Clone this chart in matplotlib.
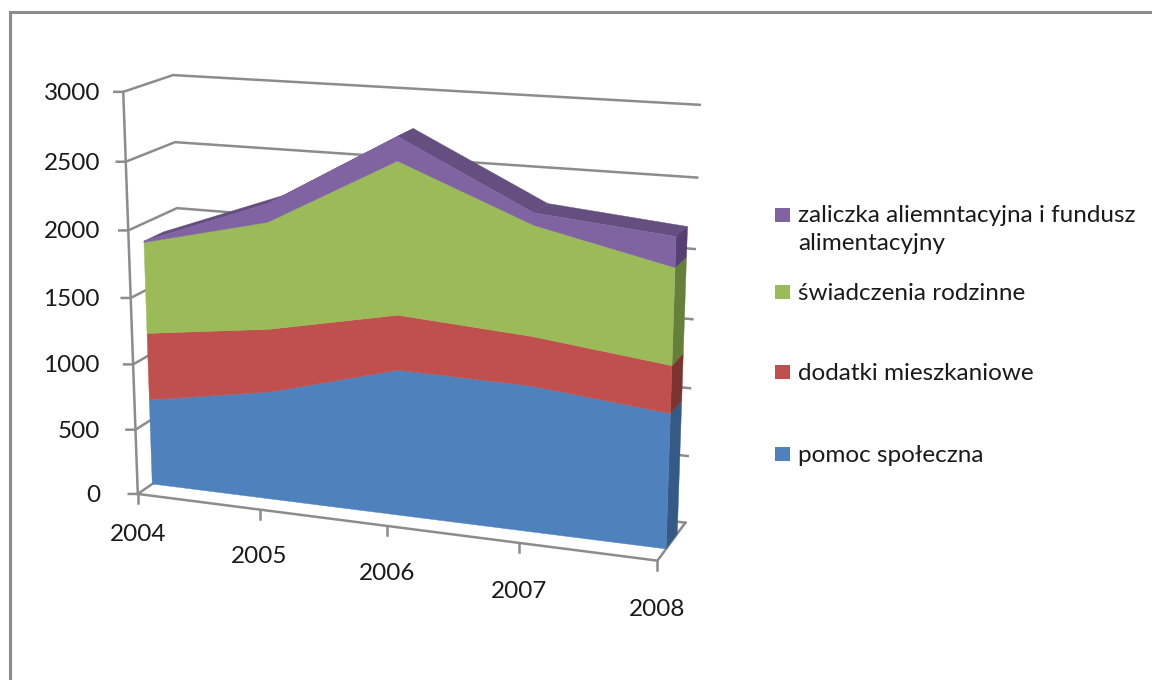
import numpy as np
import matplotlib
matplotlib.use('Agg')
import matplotlib.pyplot as plt
from matplotlib.patches import Polygon, Rectangle

plt.rcParams['font.family'] = ['Lato', 'DejaVu Sans']

# data
years = [2004, 2005, 2006, 2007, 2008]
pomoc = [660, 825, 1088, 1072, 979]
dodatki = [512, 471, 402, 356, 338]
swiadczenia = [687, 787, 1099, 783, 680]
zaliczka = [10, 135, 172, 86, 212]
y_ticks = [0, 500, 1000, 1500, 2000, 2500, 3000]
names = ['pomoc społeczna', 'dodatki mieszkaniowe', 'świadczenia rodzinne',
         'zaliczka aliemntacyjna i fundusz\nalimentacyjny']

front_cols = ['#4F81BD', '#C0504D', '#9BBB59', '#8064A2']
side_cols = ['#345A85', '#7D3330', '#667F3A', '#553F73']
top_col = '#654F81'
line_col = '#8C8C8C'
text_col = '#1A1A1A'

y_max = 3000.0
# the area sits between these depths of the box
z_front, z_back = 0.3, 0.7

# box position -> pixel pairs, used to fit the camera
calib = [
    (0, 0, 0, 138, 494), (.25, 0, 0, 259, 510), (.5, 0, 0, 386, 526),
    (.75, 0, 0, 519, 543), (1, 0, 0, 658, 560),
    (0, 1/6, 0, 136, 430), (0, 2/6, 0, 133, 364), (0, 3/6, 0, 131, 298),
    (0, 4/6, 0, 129, 230), (0, 5/6, 0, 125, 162), (0, 1, 0, 123, 92),
    (0, 1, 1, 173, 75), (0, 5/6, 1, 175, 142), (0, 4/6, 1, 177, 208),
    (1, 1, 1, 700, 105), (1, 5/6, 1, 697, 178), (1, 4/6, 1, 695, 249),
    (1, 3/6, 1, 692, 319), (1, 2/6, 1, 690, 388), (1, 1/6, 1, 688, 456),
    (1, 0, 1, 685, 523),
]


def fit_camera(pairs):
    rows = []
    for a, b, c, px, py in pairs:
        p = [a, b, c, 1]
        rows.append(p + [0, 0, 0, 0] + [-px / 1000 * v for v in p])
        rows.append([0, 0, 0, 0] + p + [-py / 1000 * v for v in p])
    return np.linalg.svd(np.array(rows))[2][-1].reshape(3, 4)


cam = fit_camera(calib)


def proj(u, val, z):
    h = cam @ np.array([u, val / y_max, z, 1.0])
    return h[0] / h[2] * 1000, h[1] / h[2] * 1000


fig = plt.figure(figsize=(11.52, 6.8), dpi=100)
ax = fig.add_axes([0, 0, 1, 1])
ax.set_xlim(0, 1152)
ax.set_ylim(680, 0)
ax.axis('off')

# outer frame of the chart
ax.plot([9.5, 9.5, 1152], [680, 11.5, 11.5], color=line_col, lw=2.2, solid_joinstyle='miter')

# walls, gridlines and axis lines
for v in y_ticks:
    x0, y0 = proj(0, v, 0)
    x1, y1 = proj(0, v, 1)
    x2, y2 = proj(1, v, 1)
    ax.plot([x0 - 9, x0, x1, x2], [y0, y0, y1, y2], color=line_col, lw=1.8, zorder=1)
    ax.text(100, y0 + 1.5, str(v), ha='right', va='center', fontsize=17.5, color=text_col)

pts = [proj(0, 0, 0), proj(0, y_max, 0)]
ax.plot([p[0] for p in pts], [p[1] for p in pts], color=line_col, lw=1.8, zorder=1)
pts = [proj(0, 0, 0), proj(1, 0, 0), proj(1, 0, 1)]
ax.plot([p[0] for p in pts], [p[1] for p in pts], color=line_col, lw=1.8, zorder=1)

label_y = [534.5, 556.5, 573.5, 591.5, 609.5]
us = np.linspace(0, 1, len(years))
for u, yr, ly in zip(us, years, label_y):
    x0, y0 = proj(u, 0, 0)
    ax.plot([x0, x0], [y0, y0 + 9], color=line_col, lw=1.8, zorder=1)
    ax.text(x0, ly, str(yr), ha='center', va='center', fontsize=17.5, color=text_col)

# stacked layers
series = [pomoc, dodatki, swiadczenia, zaliczka]
stack = np.cumsum(np.array(series, dtype=float), axis=0)
bottoms = np.vstack([np.zeros(len(years)), stack[:-1]])

# top surface of the stack, seen from above where it falls away
for i in range(len(years) - 1):
    quad = [proj(us[i], stack[-1][i], z_front), proj(us[i + 1], stack[-1][i + 1], z_front),
            proj(us[i + 1], stack[-1][i + 1], z_back), proj(us[i], stack[-1][i], z_back)]
    ax.add_patch(Polygon(quad, closed=True, fc=top_col, ec=top_col, lw=0.3, zorder=2))

# right end of each layer
for k in range(4):
    quad = [proj(1, bottoms[k][-1], z_front), proj(1, stack[k][-1], z_front),
            proj(1, stack[k][-1], z_back), proj(1, bottoms[k][-1], z_back)]
    ax.add_patch(Polygon(quad, closed=True, fc=side_cols[k], ec=side_cols[k], lw=0.3, zorder=2))

# front faces
for k in range(4):
    upper = [proj(u, v, z_front) for u, v in zip(us, stack[k])]
    lower = [proj(u, v, z_front) for u, v in zip(us, bottoms[k])]
    ax.add_patch(Polygon(upper + lower[::-1], closed=True, fc=front_cols[k], ec=front_cols[k], lw=0.3, zorder=3))

# legend
legend_y = [454, 372, 292, 215]
for k in range(4):
    ly = legend_y[k]
    ax.add_patch(Rectangle((775, ly - 7), 14.5, 14, fc=front_cols[k], ec='none'))
    ax.text(798, ly - 9.5, names[k], ha='left', va='top', fontsize=17.5, color=text_col, linespacing=1.4)

fig.savefig('out.png', dpi=100)
